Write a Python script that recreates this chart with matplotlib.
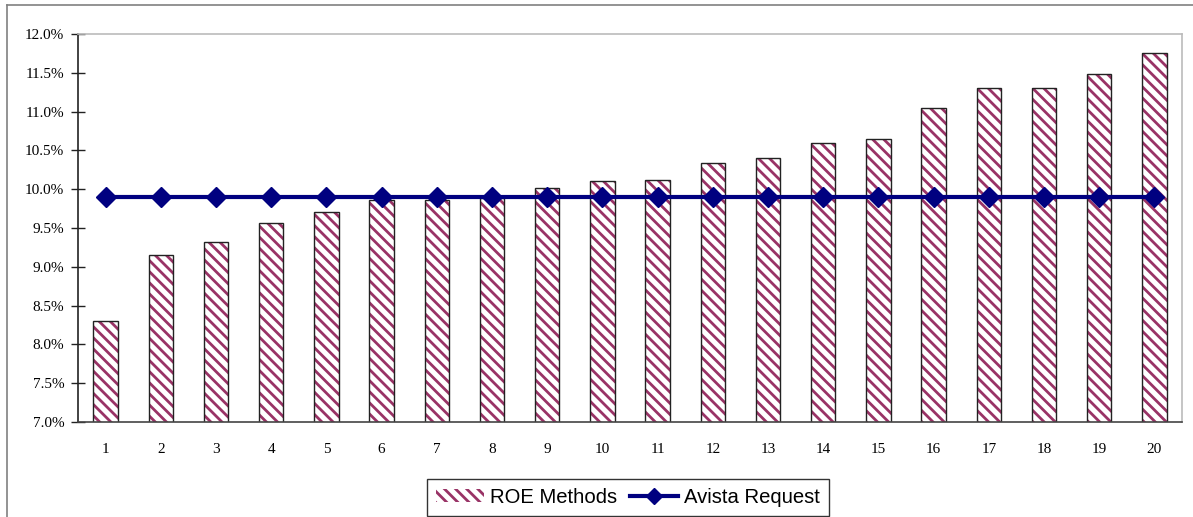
import matplotlib
matplotlib.use("Agg")
import matplotlib.pyplot as plt
from matplotlib.patches import Patch
from matplotlib.lines import Line2D
import numpy as np

categories = [str(i) for i in range(1, 21)]
roe_methods = [8.30, 9.15, 9.32, 9.56, 9.71, 9.86, 9.86, 9.89, 10.01, 10.11,
               10.12, 10.34, 10.40, 10.59, 10.65, 11.05, 11.30, 11.30, 11.48, 11.75]
avista_request = [9.90] * 20
yticks = [7.0, 7.5, 8.0, 8.5, 9.0, 9.5, 10.0, 10.5, 11.0, 11.5, 12.0]

plt.rcParams['hatch.linewidth'] = 2.0
plt.rcParams['hatch.color'] = '#993366'

fig = plt.figure(figsize=(11.93, 5.17), dpi=100)
ax = fig.add_axes([0.0654, 0.1838, 0.9254, 0.7504])

x = np.arange(1, len(categories) + 1)
bar_w = 0.44
ax.bar(x, roe_methods, width=bar_w, bottom=0, color='white',
       edgecolor='#993366', hatch='\\\\\\', linewidth=0, zorder=2)
ax.bar(x, roe_methods, width=bar_w, fill=False, edgecolor='#222222',
       linewidth=1.0, zorder=3)
ax.plot(x, avista_request, color='#000080', linewidth=3.0, marker='D',
        markersize=10, markerfacecolor='#000080', markeredgecolor='#000080',
        zorder=4, clip_on=False)

ax.set_xlim(0.5, 20.5)
ax.set_ylim(7.0, 12.0)
ax.set_yticks(yticks)
ax.set_yticklabels([f"{v:.1f}%" for v in yticks])
ax.set_xticks(x)
ax.set_xticklabels(categories)

serif = ['Liberation Serif', 'DejaVu Serif']
for lab in ax.get_yticklabels() + ax.get_xticklabels():
    lab.set_fontfamily(serif)
    lab.set_fontsize(11)
    lab.set_color('black')

ax.tick_params(axis='y', direction='inout', length=10, width=1.0,
               color='#222222', pad=5)
ax.tick_params(axis='x', length=0, pad=15)

ax.spines['left'].set_color('#222222')
ax.spines['bottom'].set_color('#444444')
ax.spines['top'].set_color('#bbbbbb')
ax.spines['right'].set_color('#bbbbbb')
for s in ax.spines.values():
    s.set_linewidth(1.2)
ax.spines['bottom'].set_zorder(5)

handles = [Patch(facecolor='white', edgecolor='#993366', hatch='\\\\\\',
                 linewidth=0, label='ROE Methods'),
           Line2D([0], [0], color='#000080', linewidth=3.0, marker='D',
                  markersize=8, label='Avista Request')]
leg = fig.legend(handles=handles, loc='center',
                 bbox_to_anchor=(628 / 1193, 1 - 497.5 / 517), ncol=2,
                 frameon=True, fancybox=False, edgecolor='black',
                 prop={'family': ['Liberation Sans', 'DejaVu Sans'], 'size': 14.6},
                 handlelength=2.4, handleheight=0.6, columnspacing=0.6,
                 handletextpad=0.3, borderpad=0.45, borderaxespad=0)
leg.get_frame().set_linewidth(1.0)

# outer chart border (top and left visible)
fig.add_artist(Line2D([7 / 1193, 7 / 1193], [0, 1 - 5 / 517],
                      transform=fig.transFigure, color='#808080', linewidth=1.2))
fig.add_artist(Line2D([7 / 1193, 1], [1 - 5 / 517, 1 - 5 / 517],
                      transform=fig.transFigure, color='#808080', linewidth=1.2))

fig.savefig('out.png', dpi=100)
